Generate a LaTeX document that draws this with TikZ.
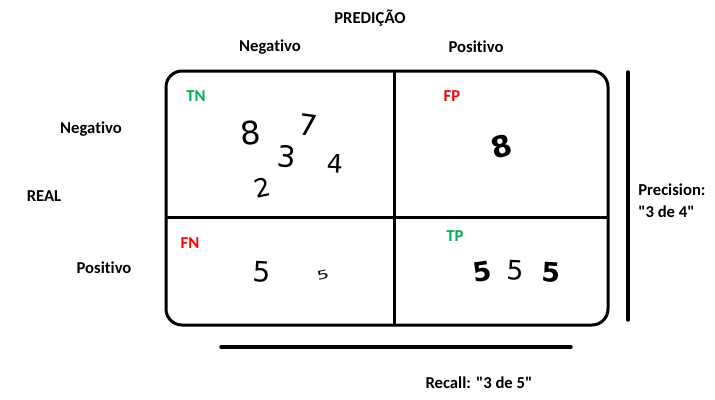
\documentclass[tikz,border=0pt]{standalone}
\usepackage{fontspec}
\usepackage{xcolor}
\setmainfont{Carlito}[Ligatures=NoCommon]
\newfontfamily\digitfont{DejaVu Sans}
\usetikzlibrary{positioning}
\definecolor{okgreen}{RGB}{0,176,80}
\definecolor{badred}{RGB}{255,0,0}
\newcommand{\dq}{\XeTeXglyph\XeTeXcharglyph"22\relax}
\tikzset{
    lbl/.style = {inner sep=0pt, font=\bfseries\fontsize{12.5}{16.5}\selectfont},
    lblg/.style = {lbl, text=okgreen},
    lblr/.style = {lbl, text=badred},
    digit/.style = {inner sep=0pt, font=\digitfont\fontsize{#1}{#1}\selectfont},
    digitb/.style = {inner sep=0pt, font=\digitfont\bfseries\fontsize{#1}{#1}\selectfont},
    boxline/.style = {line width=2.25pt, line join=round},
    barline/.style = {line width=2.6pt, line cap=round},
}
\begin{document}
\begin{tikzpicture}[x=0.75pt, y=-0.75pt]
\useasboundingbox (0,0) rectangle (715,400);
% headers
\node[lbl] at (370,18) (pred) {PREDIÇÃO};
\node[lbl] at (270,47) (pneg) {Negativo};
\node[lbl] at (476,47) (ppos) {Positivo};
\node[lbl] at (91,129) (rneg) {Negativo};
\node[lbl] at (44,196) (real) {REAL};
\node[lbl] at (104,268) (rpos) {Positivo};
%
% matrix
\draw[boxline, rounded corners=12pt] (166,71) rectangle (608,325);
\coordinate (vt) at (394,71);
\coordinate (vb) at (394,325);
\coordinate (hl) at (166,217);
\coordinate (hr) at (608,217);
\draw[boxline] (vt) -- (vb);
\draw[boxline] (hl) -- (hr);
%
% cell labels
\node[lblg] at (196,96) (tn) {TN};
\node[lblr] at (452,96) (fp) {FP};
\node[lblr] at (190,243) (fn) {FN};
\node[lblg] at (455,236) (tp) {TP};
%
% digits TN
\node[digit=24, rotate=5] at (251,133) (d8) {8};
\node[digit=22, rotate=-8] at (308,125) (d7) {7};
\node[digit=22, rotate=-5] at (287,157) (d3) {3};
\node[digit=19, rotate=-3] at (335,164) (d4) {4};
\node[digit=19, rotate=12] at (262,188) (d2) {2};
% digits FP
\node[digitb=22, rotate=15] at (502,147) (e8) {8};
% digits FN
\node[digit=21, rotate=-3] at (262,272) (f5) {5};
\node[digit=9, rotate=12, xscale=1.6] at (323,275) (g5) {5};
% digits TP
\node[digitb=20, rotate=8] at (482,272) (t5a) {5};
\node[digit=20, rotate=-3] at (515,270) (t5b) {5};
\node[digitb=20, rotate=-3] at (551,272) (t5c) {5};
%
% precision / recall
\coordinate (pt) at (628,72);
\coordinate (pb) at (628,320);
\draw[barline] (pt) -- (pb);
\node[lbl, anchor=west, align=left] at (638,201) (prec) {Precision:\\\dq3 de 4\dq};
\coordinate (rl) at (221,347);
\coordinate (rr) at (571,347);
\draw[barline] (rl) -- (rr);
\node[lbl] at (479,383) (rec) {Recall: \dq3 de 5\dq};
\end{tikzpicture}
\end{document}
